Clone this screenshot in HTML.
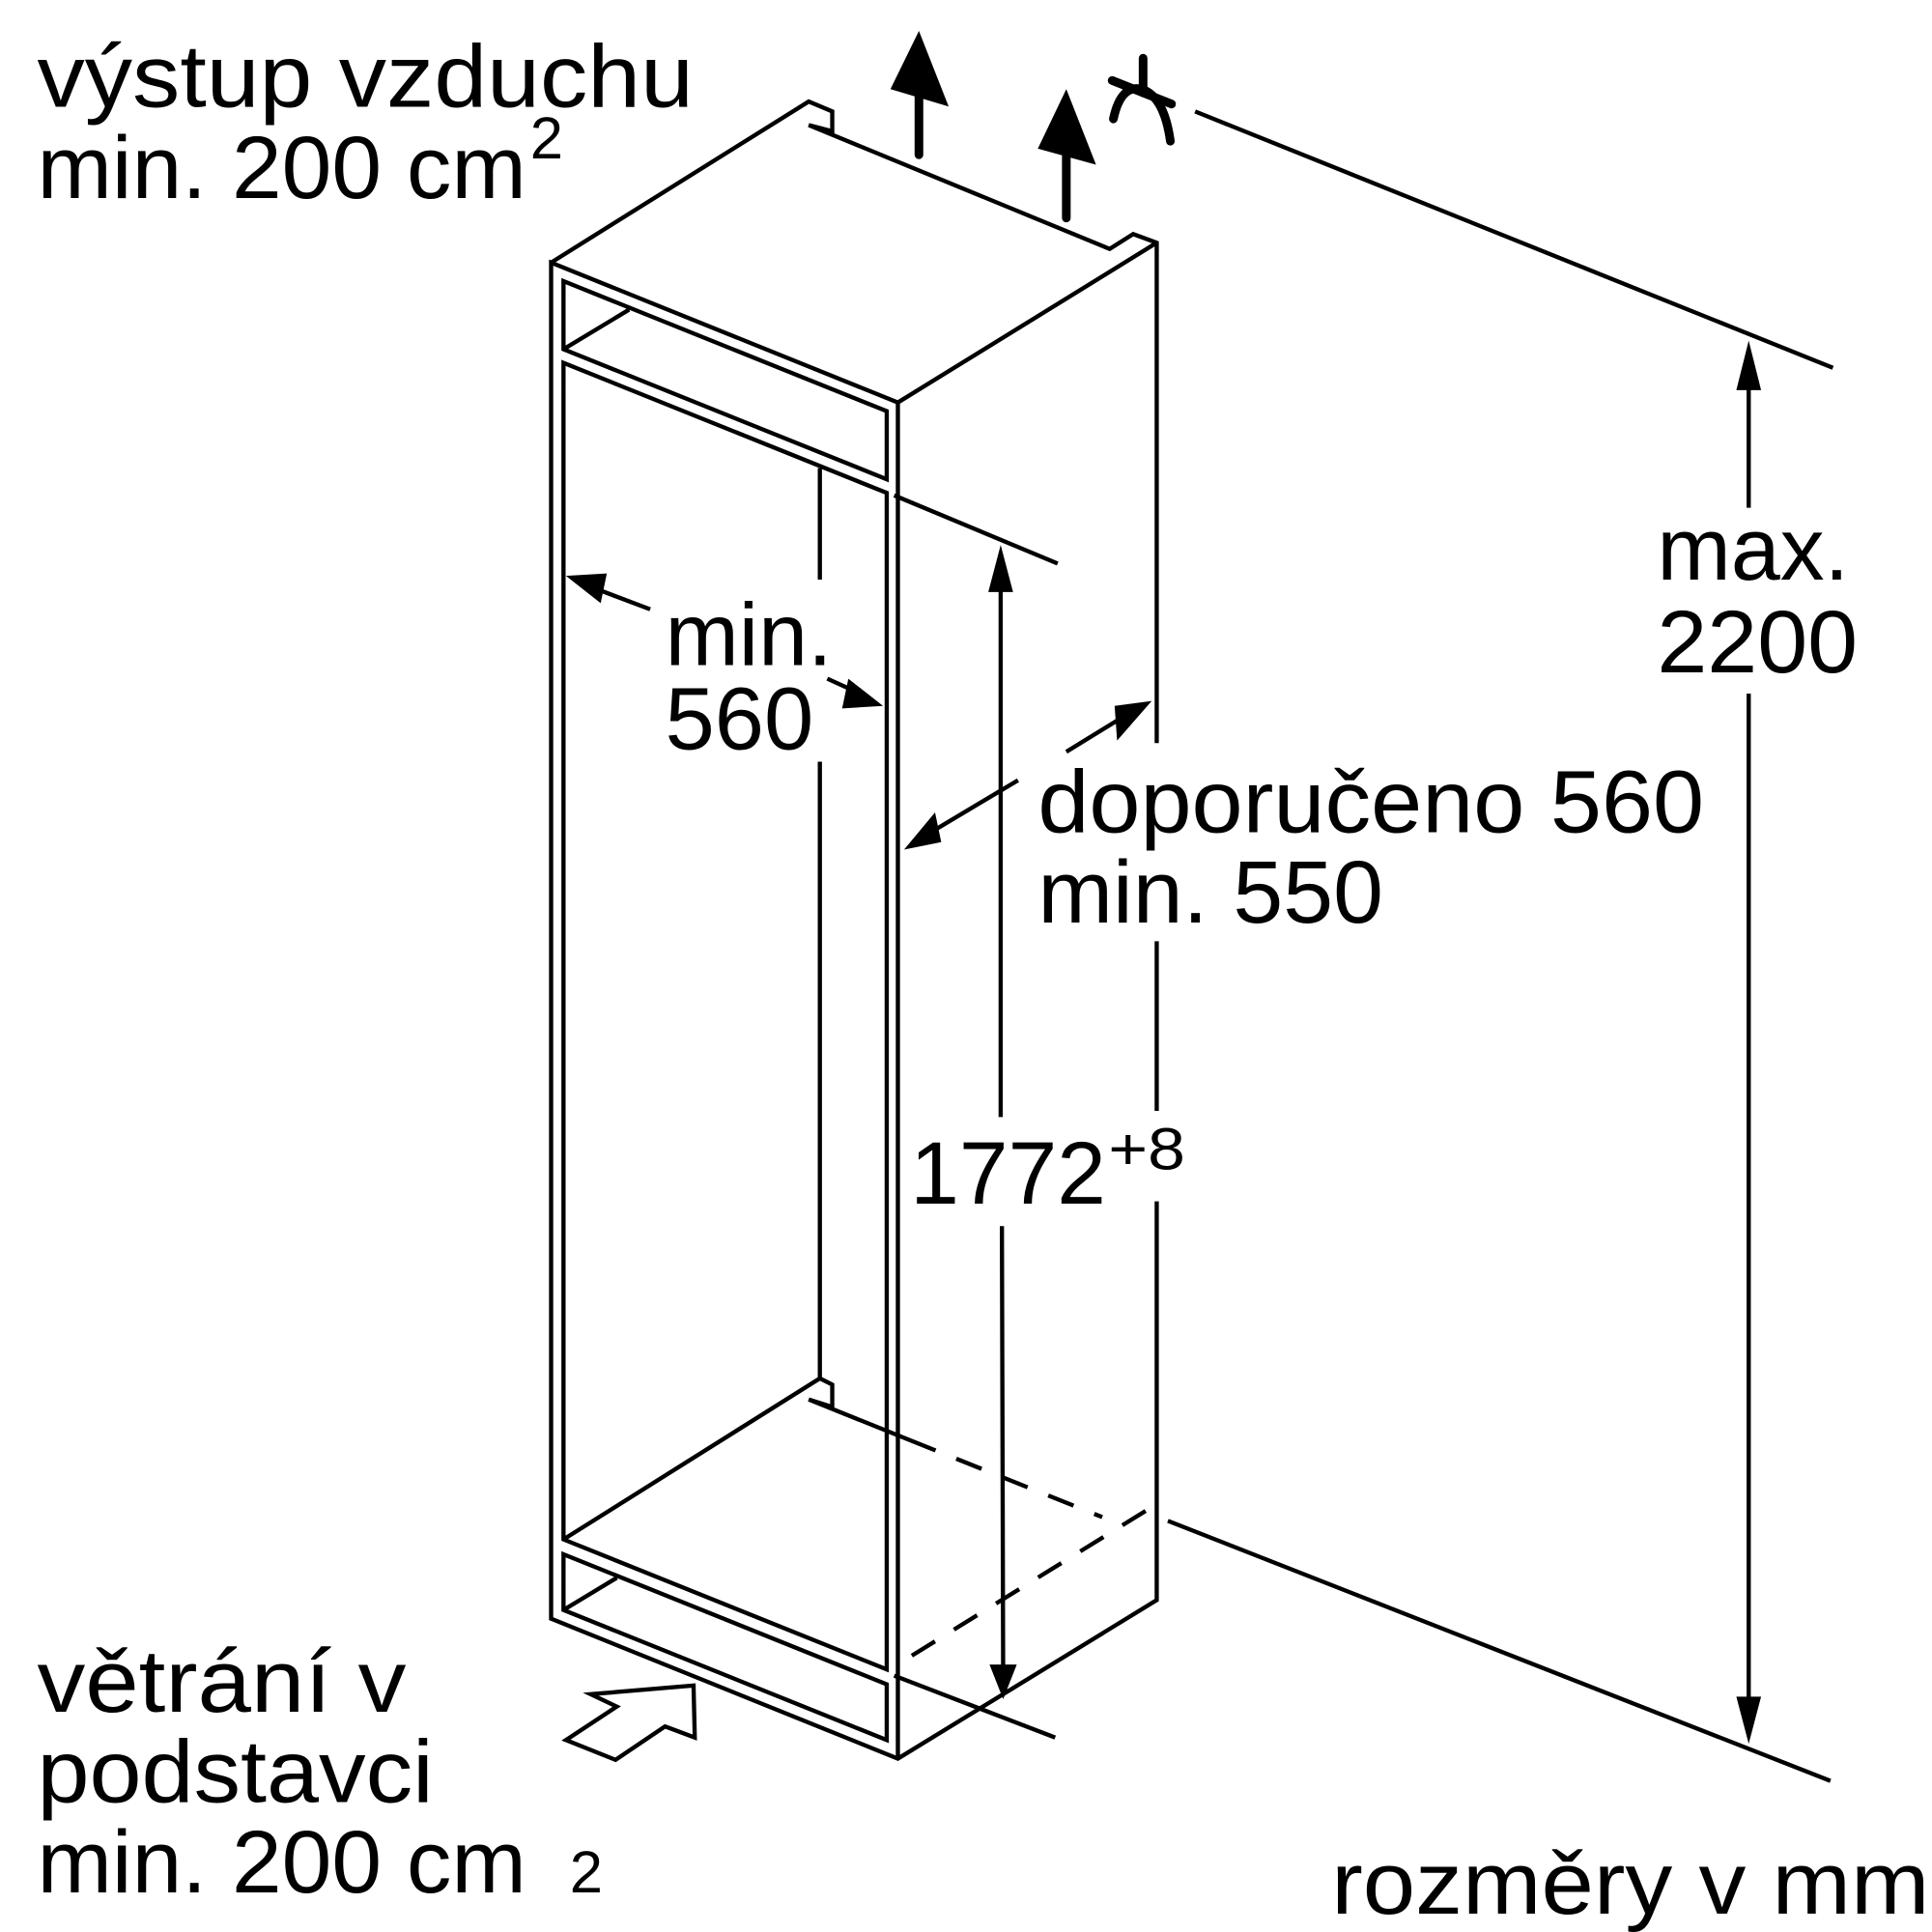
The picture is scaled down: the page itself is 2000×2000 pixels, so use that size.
<!DOCTYPE html>
<html><head><meta charset="utf-8"><style>
html,body{margin:0;padding:0;background:#fff}
svg{display:block}
text{font-family:"Liberation Sans",sans-serif;fill:#000}
</style></head><body>
<svg width="2000" height="2000" viewBox="0 0 1560 1560" xmlns="http://www.w3.org/2000/svg">
<g fill="none" stroke="#000" stroke-width="3.4" stroke-linejoin="miter">
<path d="M445,212 L653,82 L672,90 L672,106 L653,101 L896,201 L915,189 L934,196 L934,600"/>
<path d="M934,760 L934,897 M934,970 L934,1292 L725,1420 L445,1307 L445,212 L725,325 L934,196"/>
<path d="M725,325 L725,1420"/>
<path d="M455,227 L716,332 L716,387 L455,282 Z M455,282 L508,250"/>
<path d="M455,293 L716,398 L716,1348 L455,1243 Z"/>
<path d="M455,1243 L662,1113 L672,1118 L672,1136 L653,1130 L735,1163"/>
<path d="M662,378 L662,468 M662,615 L662,1113"/>
<path d="M735,1163 L890,1225" stroke-dasharray="22,18"/>
<path d="M925,1220 L728,1342" stroke-dasharray="22,18"/>
<path d="M455,1255 L716,1360 L716,1405 L455,1300 Z M455,1300 L498,1274"/>
<path d="M722,400 L854,455 M722,1353 L852,1403"/>
<path d="M965,90 L1480,297 M943,1228 L1478,1438"/>
<path d="M808,460 L808,902 M809,990 L810,1350"/>
<path d="M1412,300 L1412,410 M1412,560 L1412,1380"/>
<path d="M480,475 L525,492 M668,548 L690,558"/>
<path d="M861,607 L905,580 M822,630 L755,670"/>
<path d="M477,1368 L560,1361 L561,1403 L537,1394 L497,1421 L457,1405 L498,1378 Z"/>
</g>
<g fill="#000" stroke="none">
<polygon points="808,440 798,478 818,478"/>
<polygon points="810,1372 799,1344 821,1344"/>
<polygon points="1412,275 1402,315 1422,315"/>
<polygon points="1412,1408 1402,1370 1422,1370"/>
<polygon points="457,465 490,463 485,487"/>
<polygon points="713,570 680,572 685,548"/>
<polygon points="930,566 900,570 902,598"/>
<polygon points="730,686 755,656 760,680"/>
<polygon points="742,25 719,72 766,86"/>
<polygon points="861,72 838,120 885,133"/>
</g>
<g stroke="#000" stroke-width="7" stroke-linecap="round" fill="none">
<path d="M742,70 L742,125 M861,118 L861,176"/>
<path d="M923,47 L923,75 M898,65 L946,84"/>
<path d="M899,96 Q905,68 922,72 Q940,78 945,114"/>
</g>
<g font-size="72" lengthAdjust="spacingAndGlyphs">
<text x="30" y="86" textLength="530" lengthAdjust="spacingAndGlyphs">výstup vzduchu</text>
<text x="30" y="160" textLength="395" lengthAdjust="spacingAndGlyphs">min. 200 cm</text>
<text x="428" y="128" font-size="48">2</text>
<text x="537" y="537" textLength="135" lengthAdjust="spacingAndGlyphs">min.</text>
<text x="537" y="605" textLength="120" lengthAdjust="spacingAndGlyphs">560</text>
<text x="838" y="672" textLength="538" lengthAdjust="spacingAndGlyphs">doporučeno 560</text>
<text x="838" y="745" textLength="279" lengthAdjust="spacingAndGlyphs">min. 550</text>
<text x="735" y="972" textLength="158" lengthAdjust="spacingAndGlyphs">1772</text>
<text x="895" y="944" font-size="48" textLength="62" lengthAdjust="spacingAndGlyphs">+8</text>
<text x="1338" y="468" textLength="155" lengthAdjust="spacingAndGlyphs">max.</text>
<text x="1338" y="543" textLength="162" lengthAdjust="spacingAndGlyphs">2200</text>
<text x="30" y="1382" textLength="298" lengthAdjust="spacingAndGlyphs">větrání v</text>
<text x="30" y="1455" textLength="320" lengthAdjust="spacingAndGlyphs">podstavci</text>
<text x="30" y="1528" textLength="395" lengthAdjust="spacingAndGlyphs">min. 200 cm</text>
<text x="460" y="1528" font-size="48">2</text>
<text x="1075" y="1545" textLength="483" lengthAdjust="spacingAndGlyphs">rozměry v mm</text>
</g>
</svg>
</body></html>
